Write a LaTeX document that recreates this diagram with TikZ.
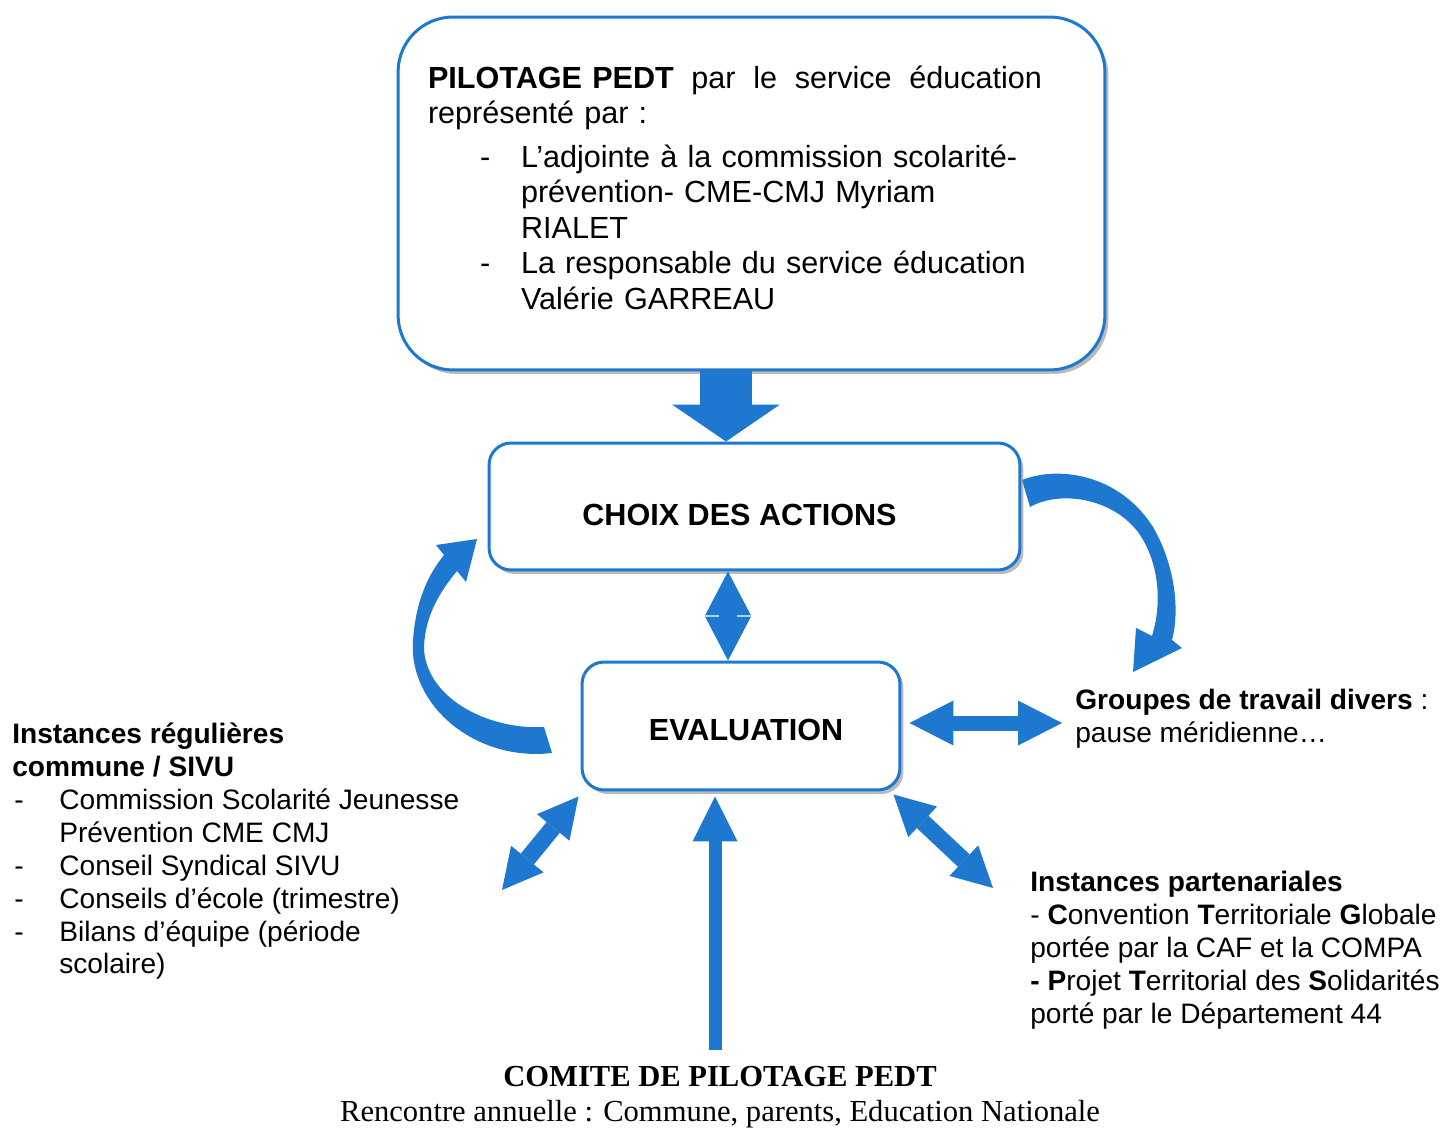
\documentclass[tikz,border=0pt]{standalone}
\usepackage{fontspec}
\setmainfont{Liberation Sans}
\newfontfamily\timesfont{Liberation Serif}
\usetikzlibrary{arrows.meta,calc,shadows}
\definecolor{pedtblue}{RGB}{31,120,208}
\tikzset{
  box/.style={draw=pedtblue, line width=0.06cm, fill=white, rounded corners=0.44cm,
    drop shadow={shadow xshift=0.07cm, shadow yshift=-0.08cm, fill=black!45, opacity=0.6}},
  side/.style={anchor=north west, inner sep=0pt, align=left, font=\fontsize{16}{18.7}\selectfont},
  onehead/.style n args={3}{pedtblue, line width=#1,
    -{Triangle[length=#3,width=#2,line width=0pt]}},
  twohead/.style n args={3}{pedtblue, line width=#1,
    {Triangle[length=#3,width=#2,line width=0pt]}-{Triangle[length=#3,width=#2,line width=0pt]}},
}
\begin{document}
\begin{tikzpicture}[x=0.02cm,y=-0.02cm]
  \useasboundingbox (0,0) rectangle (1443,1128);
  \fill[pedtblue] (552,753) .. controls (475,762) and (408,705) .. (413,640)
    .. controls (416,600) and (428,575) .. (444,555) -- (436,545) -- (477,539) -- (466,582)
    -- (457,571) .. controls (437,595) and (424,620) .. (424,650)
    .. controls (428,700) and (490,730) .. (544,727) -- cycle;
  \fill[pedtblue] (1022,480) .. controls (1060,465) and (1120,475) .. (1153,527)
    .. controls (1175,565) and (1180,610) .. (1172,640) -- (1182,648) -- (1133,672) -- (1136,628)
    -- (1152,636) .. controls (1163,600) and (1158,560) .. (1138,532)
    .. controls (1112,498) and (1060,490) .. (1030,507) -- cycle;
  \node (pilot) [box, rounded corners=1.1cm, minimum width=14.14cm, minimum height=7.06cm,
    text width=12.94cm, inner xsep=0.6cm, align=left,
    font=\fontsize{17.4}{20.2}\selectfont] at (751.5,193.5) {%
    \hbox to 12.28cm{\textbf{PILOTAGE PEDT}\hfill par\hfill le\hfill service\hfill éducation}\\
    représenté par :\\[0.16cm]
    \makebox[1.86cm][l]{\hspace{1.04cm}-}L’adjointe à la commission scolarité-\\
    \hspace*{1.86cm}prévention- CME-CMJ Myriam\\
    \hspace*{1.86cm}RIALET\\
    \makebox[1.86cm][l]{\hspace{1.04cm}-}La responsable du service éducation\\
    \hspace*{1.86cm}Valérie GARREAU\rule[-0.24cm]{0pt}{0pt}};
  \node (choix) [box, minimum width=10.62cm, minimum height=2.54cm, text height=0.78cm,
    font=\bfseries\fontsize{17.4}{20}\selectfont] at (754.5,506.5) {CHOIX DES ACTIONS\hspace*{0.6cm}};
  \node (eval) [box, minimum width=6.36cm, minimum height=2.56cm, text height=0.6cm,
    font=\bfseries\fontsize{17.4}{20}\selectfont] at (741,726) {\hspace*{0.2cm}EVALUATION};
  \node (grp) [side] at (1075,689) {\textbf{Groupes de travail divers} :\\pause méridienne\dots};
  \node (regul) [side] at (12,723) {\textbf{Instances régulières}\\
    \textbf{commune / SIVU}\\
    \makebox[0.94cm][l]{\hspace{0.04cm}-}Commission Scolarité Jeunesse\\
    \hspace*{0.94cm}Prévention CME CMJ\\
    \makebox[0.94cm][l]{\hspace{0.04cm}-}Conseil Syndical SIVU\\
    \makebox[0.94cm][l]{\hspace{0.04cm}-}Conseils d’école (trimestre)\\
    \makebox[0.94cm][l]{\hspace{0.04cm}-}Bilans d’équipe (période\\
    \hspace*{0.94cm}scolaire)};
  \node (parten) [side] at (1030,871) {\textbf{Instances partenariales}\\
    - \textbf{C}onvention \textbf{T}erritoriale \textbf{G}lobale\\
    portée par la CAF et la COMPA\\
    \textbf{- P}rojet \textbf{T}erritorial des \textbf{S}olidarités\\
    porté par le Département 44};
  \node (comite) [anchor=north, inner sep=0pt, align=center,
    font=\timesfont\fontsize{17.4}{19.8}\selectfont] at (720,1066) {%
    \textbf{COMITE DE PILOTAGE PEDT}\\Rencontre annuelle : Commune, parents, Education Nationale};
  \coordinate (axis) at (726,0);
  \coordinate (midax) at (728,0);
  \coordinate (botax) at (715,0);
  \coordinate (meet) at (728,620);
  \coordinate (grpend) at (1062,723);
  \coordinate (llend) at (502,890);
  \coordinate (lrend) at (993,888);
  \draw[onehead={1.04cm}{2.16cm}{0.74cm}] (axis |- pilot.south) -- (axis |- choix.north);
  \draw[onehead={0.36cm}{0.92cm}{0.88cm}] ($(meet)+(0,-2)$) -- (midax |- choix.south);
  \draw[onehead={0.36cm}{0.92cm}{0.88cm}] ($(meet)+(0,2)$) -- (midax |- eval.north);
  \draw[twohead={0.3cm}{0.9cm}{0.88cm}] ($(eval.east)+(8,-3)$) -- (grpend);
  \draw[twohead={0.34cm}{0.84cm}{0.8cm}] ($(eval.south west)+(-2,5)$) -- (llend);
  \draw[twohead={0.34cm}{0.84cm}{0.8cm}] ($(eval.south east)+(-8,3)$) -- (lrend);
  \draw[onehead={0.26cm}{0.9cm}{0.9cm}] ($(botax |- comite.north)+(0,-16)$) -- ($(botax |- eval.south)+(0,5)$);
\end{tikzpicture}
\end{document}
